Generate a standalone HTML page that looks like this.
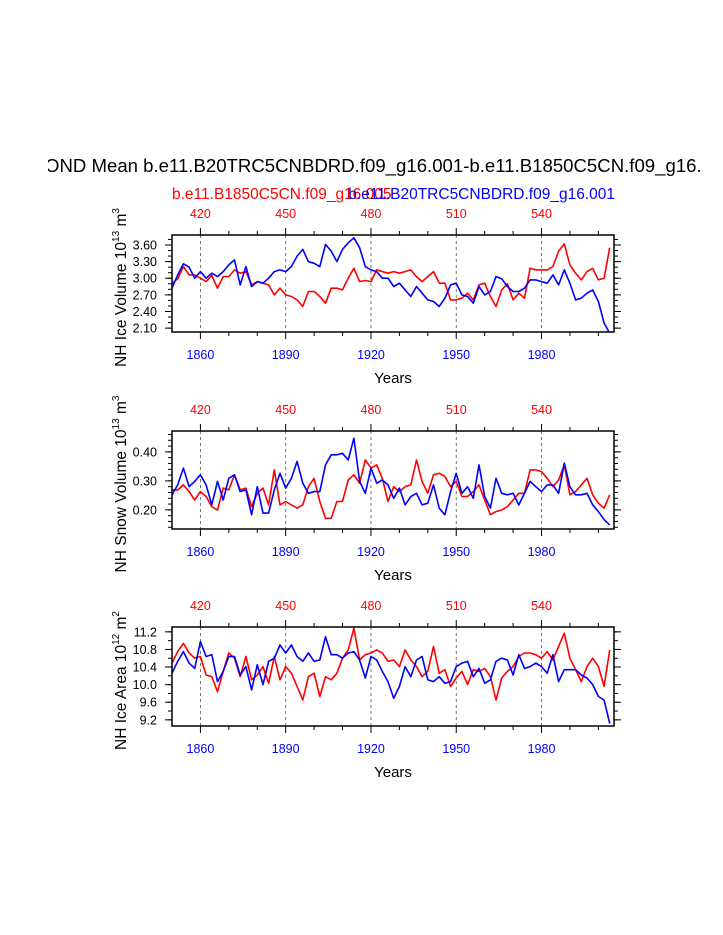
<!DOCTYPE html>
<html><head><meta charset="utf-8"><style>
html,body{margin:0;padding:0;background:#fff;}
svg{display:block;font-family:"Liberation Sans",Arial,sans-serif;}
</style></head><body>
<svg id="chart" width="723" height="935" viewBox="0 0 723 935" xmlns="http://www.w3.org/2000/svg">
<defs><clipPath id="tclip"><rect x="48" y="140" width="654" height="40"/></clipPath></defs>
<text x="45" y="172" font-size="18.6" clip-path="url(#tclip)">OND Mean b.e11.B20TRC5CNBDRD.f09_g16.001-b.e11.B1850C5CN.f09_g16.005</text>
<text x="172" y="199" font-size="15.5" fill="#ff0000">b.e11.B1850C5CN.f09_g16.005</text>
<text x="615" y="199" font-size="15.5" fill="#0000ff" text-anchor="end">b.e11.B20TRC5CNBDRD.f09_g16.001</text>
</svg>
<script>
// years (every 2 years)
const years = [];
for (let i = 0; i < 78; i++) years.push(1850 + 2 * i);
const bottomTicks = [1860, 1890, 1920, 1950, 1980];
const topTickLabels = ["420", "450", "480", "510", "540"];

const iceVolBlue = [2.82,3.06,3.26,3.20,3.00,3.12,3.00,3.09,3.03,3.12,3.24,3.33,2.88,3.21,2.85,2.94,2.91,3.00,3.12,3.15,3.12,3.21,3.40,3.52,3.30,3.27,3.21,3.61,3.49,3.30,3.52,3.64,3.73,3.55,3.21,3.15,3.12,3.00,3.00,2.85,
2.91,2.79,2.67,2.85,2.73,2.61,2.58,2.49,2.64,2.88,2.91,2.70,2.67,2.55,2.85,2.70,2.76,3.03,2.99,2.85,2.76,2.76,2.82,2.97,2.97,2.94,2.91,3.06,2.88,3.15,2.91,2.61,2.64,2.73,2.79,2.58,2.19,2.01];
const iceVolRed = [2.91,2.99,3.21,3.06,3.06,3.00,2.94,3.05,2.82,3.03,3.03,3.15,3.09,3.12,2.88,2.94,2.91,2.88,2.70,2.82,2.70,2.67,2.61,2.49,2.76,2.76,2.67,2.55,2.82,2.82,2.79,3.00,3.18,2.94,2.96,2.94,3.15,3.12,3.09,3.12,
3.09,3.12,3.15,3.03,2.94,3.03,3.12,2.91,2.91,2.61,2.61,2.64,2.73,2.61,2.88,2.91,2.67,2.49,2.79,2.90,2.61,2.73,2.64,3.18,3.15,3.15,3.15,3.21,3.49,3.62,3.24,3.09,2.97,3.12,3.18,2.97,3.00,3.55];
const snowBlue = [0.252,0.286,0.344,0.280,0.298,0.321,0.286,0.217,0.298,0.234,0.309,0.321,0.263,0.269,0.183,0.280,0.189,0.189,0.269,0.326,0.275,0.309,0.367,0.292,0.257,0.263,0.263,0.355,0.390,0.390,0.395,0.372,0.447,0.298,0.257,0.344,0.292,0.303,0.286,0.240,
0.275,0.217,0.246,0.257,0.217,0.223,0.286,0.206,0.183,0.263,0.326,0.257,0.280,0.240,0.355,0.246,0.206,0.309,0.257,0.252,0.257,0.217,0.257,0.298,0.280,0.263,0.286,0.286,0.257,0.361,0.280,0.252,0.252,0.257,0.217,0.194,0.166,0.148];
const snowRed = [0.269,0.269,0.286,0.263,0.234,0.263,0.246,0.211,0.200,0.275,0.269,0.321,0.269,0.275,0.211,0.257,0.275,0.217,0.338,0.217,0.229,0.217,0.206,0.217,0.280,0.309,0.229,0.171,0.171,0.229,0.229,0.303,0.321,0.292,0.372,0.344,0.355,0.309,0.229,0.280,
0.263,0.280,0.286,0.372,0.298,0.257,0.321,0.326,0.315,0.280,0.298,0.246,0.246,0.263,0.286,0.234,0.183,0.194,0.200,0.211,0.234,0.257,0.257,0.338,0.338,0.332,0.309,0.280,0.303,0.355,0.252,0.263,0.286,0.309,0.252,0.223,0.206,0.252];
const areaBlue = [10.26,10.53,10.75,10.49,10.37,10.98,10.64,10.68,10.07,10.30,10.64,10.64,10.22,10.41,9.88,10.45,10.00,10.53,10.60,10.90,10.72,10.90,10.64,10.53,10.72,10.53,10.56,11.09,10.68,10.68,10.60,10.72,10.75,10.56,10.15,10.64,10.56,10.30,10.07,9.69,
9.96,10.41,10.18,10.56,10.64,10.11,10.07,10.18,10.03,10.07,10.41,10.49,10.53,10.18,10.37,10.03,10.11,10.53,10.60,10.56,10.22,10.68,10.37,10.41,10.49,10.41,10.26,10.68,10.07,10.34,10.34,10.34,10.22,10.15,10.00,9.73,9.65,9.12];
const areaRed = [10.49,10.75,10.94,10.72,10.60,10.64,10.22,10.18,9.84,10.30,10.72,10.60,10.18,10.64,10.11,10.22,10.41,10.03,10.64,10.11,10.41,10.26,9.96,9.65,10.18,10.26,9.73,10.18,10.11,10.26,10.60,10.79,11.28,10.56,10.68,10.72,10.79,10.72,10.53,10.56,
10.41,10.79,10.56,10.41,10.18,10.30,10.87,10.26,10.34,9.96,10.15,10.30,10.00,10.34,10.30,10.37,10.18,9.65,10.15,10.30,10.41,10.64,10.72,10.72,10.68,10.60,10.75,10.56,10.87,11.17,10.60,10.34,10.07,10.41,10.60,10.41,9.96,10.79];

const iceVolTicks = ["2.10","2.40","2.70","3.00","3.30","3.60"];
const snowTicks = ["0.20","0.30","0.40"];
const areaTicks = ["9.2","9.6","10.0","10.4","10.8","11.2"];

const NS = "http://www.w3.org/2000/svg";
const svg = document.getElementById("chart");
const X0 = 172, X1 = 614, YR0 = 1850, YR1 = 2005.5;
function xScale(yr){ return X0 + (yr - YR0) / (YR1 - YR0) * (X1 - X0); }
function mk(tag, attrs, parent){
  const e = document.createElementNS(NS, tag);
  for (const k in attrs) e.setAttribute(k, attrs[k]);
  (parent || svg).appendChild(e);
  return e;
}

const panels = [
  {name:"ice-volume", top:235, bottom:332, ymin:2.03, ymax:3.78, ticks:iceVolTicks, minor:0.1, blue:iceVolBlue, red:iceVolRed, title:"NH Ice Volume 10", sup:"13", unit:" m", usup:"3"},
  {name:"snow-volume", top:431, bottom:529, ymin:0.134, ymax:0.472, ticks:snowTicks, minor:0.02, blue:snowBlue, red:snowRed, title:"NH Snow Volume 10", sup:"13", unit:" m", usup:"3"},
  {name:"ice-area", top:627, bottom:726, ymin:9.06, ymax:11.31, ticks:areaTicks, minor:0.2, blue:areaBlue, red:areaRed, title:"NH Ice Area 10", sup:"12", unit:" m", usup:"2"}
];

panels.forEach(p => {
  const g = mk("g", {});
  
  
  const yS = v => p.bottom - (v - p.ymin) / (p.ymax - p.ymin) * (p.bottom - p.top);
  const cid = "clip-" + p.name;
  const cp = mk("clipPath", {id: cid}, g);
  mk("rect", {x: X0, y: p.top, width: X1 - X0, height: p.bottom - p.top}, cp);
  bottomTicks.forEach(t => {
    const l = mk("line", {x1: xScale(t), x2: xScale(t), y1: p.top, y2: p.bottom, stroke: "#555", "stroke-width": 0.8, "stroke-dasharray": "3,3"}, g);
    
    
  });
  for (let yr = 1860; yr <= 2000; yr += 10) {
    const major = (yr - 1860) % 30 === 0;
    const len = major ? 7 : 4;
    const x = xScale(yr);
    mk("line", {x1: x, x2: x, y1: p.bottom, y2: p.bottom + len, stroke: "#000", "stroke-width": 1}, g);
    mk("line", {x1: x, x2: x, y1: p.top, y2: p.top - len, stroke: "#000", "stroke-width": 1}, g);
  }
  bottomTicks.forEach((t, i) => {
    const tx = mk("text", {x: xScale(t), y: p.bottom + 27, "font-size": 12.5, fill: "#0000ff", "text-anchor": "middle"}, g);
    tx.textContent = t;
    
    
    const tt = mk("text", {x: xScale(t), y: p.top - 17, "font-size": 12.5, fill: "#ff0000", "text-anchor": "middle"}, g);
    tt.textContent = topTickLabels[i];
    
    
  });
  const yl = mk("text", {x: (X0 + X1) / 2, y: p.bottom + 51, "font-size": 15, "text-anchor": "middle"}, g);
  yl.textContent = "Years";
  
  
  for (let v = Math.ceil(p.ymin / p.minor) * p.minor; v <= p.ymax; v += p.minor) {
    const y = yS(v);
    mk("line", {x1: X0, x2: X0 - 4, y1: y, y2: y, stroke: "#000", "stroke-width": 1}, g);
    mk("line", {x1: X1, x2: X1 + 4, y1: y, y2: y, stroke: "#000", "stroke-width": 1}, g);
  }
  p.ticks.forEach(t => {
    const v = parseFloat(t), y = yS(v);
    mk("line", {x1: X0, x2: X0 - 7, y1: y, y2: y, stroke: "#000", "stroke-width": 1}, g);
    mk("line", {x1: X1, x2: X1 + 7, y1: y, y2: y, stroke: "#000", "stroke-width": 1}, g);
    const tx = mk("text", {x: 157, y: y + 4.5, "font-size": 12.5, "text-anchor": "end"}, g);
    tx.textContent = t;
    
    
  });
  const cy = (p.top + p.bottom) / 2 + 4;
  const yt = mk("text", {x: 0, y: 0, "font-size": 15.5, "text-anchor": "middle", transform: "translate(126," + cy + ") rotate(-90)"}, g);
  
  
  const s1 = mk("tspan", {}, yt); s1.textContent = p.title;
  const s2 = mk("tspan", {dy: -7, "font-size": 10}, yt); s2.textContent = p.sup;
  const s3 = mk("tspan", {dy: 7}, yt); s3.textContent = p.unit;
  const s4 = mk("tspan", {dy: -7, "font-size": 10}, yt); s4.textContent = p.usup;
  [["red", p.red, "#ff0000"], ["blue", p.blue, "#0000ff"]].forEach(([nm, arr, col]) => {
    const pts = arr.map((v, i) => xScale(years[i]).toFixed(1) + "," + yS(v).toFixed(1)).join(" ");
    const pl = mk("polyline", {points: pts, fill: "none", stroke: col, "stroke-width": 1.6, "stroke-linejoin": "round", "clip-path": "url(#" + cid + ")"}, g);
    
    
  });
  const fr = mk("rect", {x: X0, y: p.top, width: X1 - X0, height: p.bottom - p.top, fill: "none", stroke: "#000", "stroke-width": 1.5}, g);
  
  
});
</script>
</body></html>
